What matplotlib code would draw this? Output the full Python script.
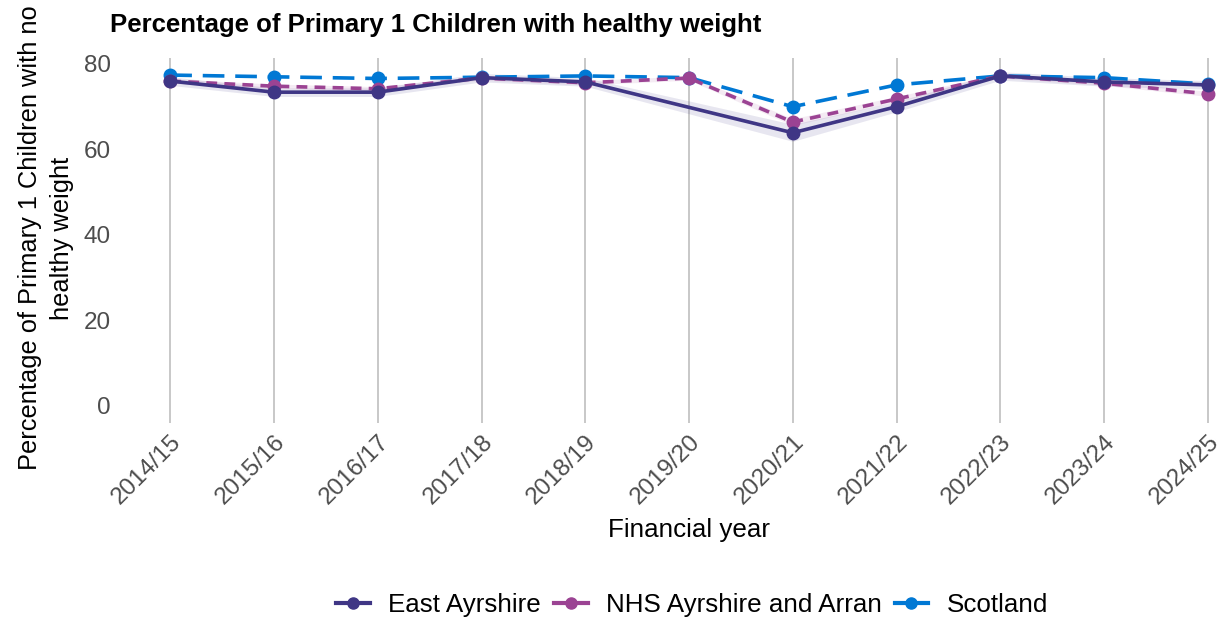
import numpy as np
import matplotlib
matplotlib.use("Agg")
import matplotlib.pyplot as plt
from matplotlib.lines import Line2D

plt.rcParams['font.family'] = ['Liberation Sans', 'DejaVu Sans']

# Data
years = ["2014/15", "2015/16", "2016/17", "2017/18", "2018/19", "2019/20",
         "2020/21", "2021/22", "2022/23", "2023/24", "2024/25"]

# East Ayrshire has no value for 2019/20
east_ayrshire = [76.0, 73.4, 73.4, 76.8, 75.8, np.nan, 63.9, 70.0, 77.2, 75.8, 75.1]
east_ayrshire_low = [75.0, 72.4, 72.4, 75.8, 74.8, np.nan, 61.9, 68.8, 76.2, 74.8, 74.1]
east_ayrshire_high = [77.0, 74.4, 74.4, 77.8, 76.8, np.nan, 65.9, 71.2, 78.2, 76.8, 76.1]
nhs_aa = [76.0, 74.8, 74.2, 76.7, 75.6, 76.7, 66.4, 71.8, 77.2, 75.5, 73.0]
nhs_aa_low = [75.5, 74.3, 73.7, 76.2, 75.1, 76.2, 65.6, 71.2, 76.7, 75.0, 72.4]
nhs_aa_high = [76.5, 75.3, 74.7, 77.2, 76.1, 77.2, 67.2, 72.4, 77.7, 76.0, 73.6]
scotland = [77.4, 77.0, 76.6, 76.9, 77.2, 76.8, 70.0, 75.1, 77.2, 76.8, 75.3]

names = ["East Ayrshire", "NHS Ayrshire and Arran", "Scotland"]
colours = ["#3F3685", "#9B4393", "#0078D4"]

W, H = 1228, 622
fig = plt.figure(figsize=(W / 100, H / 100), dpi=100)
# panel runs past the right edge, as in the cropped original
px_left, px_right = 108, 1270
ax = fig.add_axes([px_left / W, (H - 422.5) / H, (px_right - px_left) / W, (422.5 - 58.4) / H])

x = np.arange(len(years))

# drop the missing year so the line joins across it
ea = np.array(east_ayrshire)
ok = ~np.isnan(ea)
ax.fill_between(x[ok], np.array(east_ayrshire_low)[ok], np.array(east_ayrshire_high)[ok],
                color=colours[0], alpha=0.12, lw=0)
ax.fill_between(x, nhs_aa_low, nhs_aa_high, color=colours[1], alpha=0.10, lw=0)

ax.plot(x[ok], ea[ok], color=colours[0], lw=2.6, ls='-',
        marker='o', ms=9, zorder=4)
ax.plot(x, nhs_aa, color=colours[1], lw=2.6, ls=(0, (3, 2)),
        marker='o', ms=9, zorder=3)
ax.plot(x, scotland, color=colours[2], lw=2.6, ls=(0, (6, 3)),
        marker='o', ms=9, zorder=2)

ax.set_xlim(-0.6, 10.6)
ax.set_ylim(-3.87, 81.3)
ax.set_yticks([0, 20, 40, 60, 80])
ax.set_xticks(x)
ax.set_xticklabels(years, rotation=45, ha='right', rotation_mode='anchor')

ax.tick_params(axis='both', length=0, labelsize=17.5, labelcolor='#4D4D4D')
ax.tick_params(axis='x', pad=6)
ax.tick_params(axis='y', pad=-2)
for s in ax.spines.values():
    s.set_visible(False)
ax.grid(axis='x', color='#C4C4C4', lw=1.3)
ax.grid(axis='y', visible=False)
ax.set_axisbelow(True)

ax.set_xlabel("Financial year", fontsize=18.7, labelpad=7)
ax.set_ylabel("Percentage of Primary 1 Children with no\nhealthy weight", fontsize=18.3,
              multialignment='center', linespacing=1.4)
ax.yaxis.set_label_coords((74 - px_left) / (px_right - px_left), (422.5 - 238) / 364)

fig.text(110 / W, 1 - 25 / H, "Percentage of Primary 1 Children with healthy weight",
         fontsize=18.5, fontweight='bold', va='center', ha='left')

handles = [Line2D([], [], color=c, lw=3, marker='o', ms=8) for c in colours]
fig.legend(handles, names, loc='center', bbox_to_anchor=(692 / W, 1 - 605 / H), ncol=3,
           frameon=False, fontsize=18.7, handlelength=1.3, columnspacing=0.5,
           handletextpad=0.7)

fig.savefig("out.png", dpi=100)
